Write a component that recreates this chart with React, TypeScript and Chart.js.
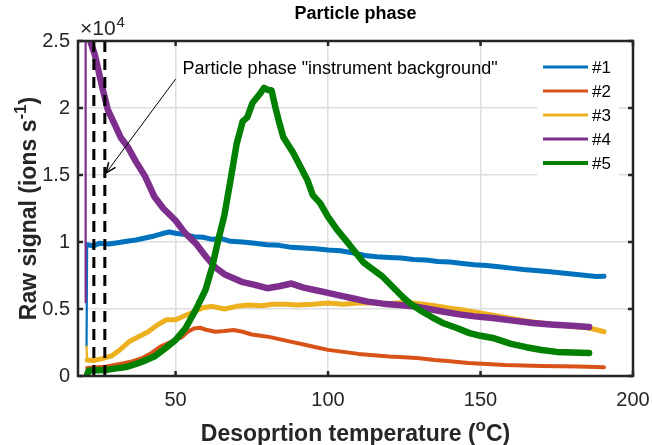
import React, { useEffect, useRef } from "react";
import { Chart, registerables } from "chart.js";

Chart.register(...registerables);

const FONT = '"Liberation Sans", Arial, Helvetica, sans-serif';
const INK = "#262626";

// ---------- data ----------
const seriesLabels = ["#1", "#2", "#3", "#4", "#5"];
const seriesColors = ["#0072BD", "#D95319", "#EDB120", "#7E2F8E", "#008000"];

const temp1 = [20.8, 21, 23, 25, 28, 31, 34, 37, 40, 43, 46, 48, 50, 53, 56, 59, 62, 65, 68, 72, 76, 80, 84, 88, 92, 96, 100, 104, 108, 112, 116, 120, 124, 128, 132, 136, 140, 144, 148, 152, 156, 160, 164, 168, 172, 176, 180, 184, 188, 190.5];
const signal1 = [2200, 9800, 9700, 9900, 9850, 9950, 10050, 10150, 10300, 10450, 10650, 10750, 10650, 10550, 10400, 10350, 10200, 10250, 10050, 10000, 9900, 9800, 9750, 9600, 9550, 9500, 9400, 9350, 9200, 9000, 8900, 8850, 8800, 8700, 8650, 8550, 8500, 8400, 8300, 8250, 8150, 8050, 7950, 7880, 7800, 7700, 7620, 7520, 7420, 7450];

const temp2 = [21, 24, 27, 30, 33, 36, 39, 42, 45, 48, 50, 52, 54, 56, 58, 60, 63, 66, 69, 72, 75, 78, 81, 84, 88, 92, 96, 100, 105, 110, 115, 120, 125, 130, 135, 140, 146, 152, 158, 164, 170, 176, 182, 188, 190.5];
const signal2 = [600, 650, 700, 820, 950, 1100, 1340, 1700, 2200, 2500, 2690, 2900, 3300, 3550, 3600, 3450, 3300, 3350, 3430, 3300, 3100, 3000, 2900, 2750, 2550, 2350, 2150, 1950, 1800, 1650, 1550, 1450, 1400, 1330, 1200, 1100, 970, 900, 820, 780, 750, 720, 700, 670, 660];

const temp3 = [20.8, 21, 23, 26, 29, 32, 35, 38, 41, 44, 47, 50, 53, 56, 59, 62, 66, 70, 74, 78, 82, 86, 90, 95, 100, 105, 110, 115, 120, 125, 130, 135, 140, 145, 150, 155, 160, 165, 170, 175, 180, 185, 188, 190.5];
const signal3 = [2200, 1200, 1150, 1300, 1500, 2000, 2600, 2950, 3300, 3800, 4200, 4200, 4500, 4800, 5100, 5200, 5000, 5200, 5300, 5250, 5350, 5350, 5300, 5350, 5450, 5350, 5450, 5450, 5400, 5500, 5400, 5250, 5050, 4900, 4700, 4500, 4300, 4100, 3950, 3800, 3700, 3600, 3450, 3300];

const temp4 = [20.5, 20.5, 21.5, 22.2, 23.5, 24.5, 26, 27.8, 30, 32, 34.3, 37, 40, 43, 46, 50, 53, 56.6, 60, 63, 66, 69, 72, 76, 80, 84, 88, 92, 96, 100, 104, 108, 113, 118, 123, 128, 133, 138, 143, 148, 154, 160, 167, 173, 180, 185.6];
const signal4 = [5500, 25500, 25500, 24850, 24000, 23000, 21500, 19850, 18800, 17800, 17100, 16000, 14900, 13400, 12500, 11600, 10700, 9900, 8900, 8100, 7600, 7300, 7000, 6800, 6550, 6700, 6900, 6600, 6400, 6200, 6000, 5800, 5550, 5400, 5300, 5200, 5000, 4800, 4600, 4450, 4330, 4150, 3960, 3850, 3750, 3660];

const temp5 = [20.8, 21.5, 24, 27, 30, 33.7, 37, 40, 43, 46.8, 50, 53.3, 56.6, 59.8, 62, 64, 66, 68, 70, 72, 73.5, 75.2, 77.8, 79, 80.4, 81.5, 82.7, 84, 85.3, 88.6, 91, 93.2, 95, 97.4, 100, 103, 107, 111.5, 115, 118, 121, 124.5, 127, 130, 134, 137.6, 142, 146.4, 150, 154, 160, 165, 170, 175, 180, 185.6];
const signal5 = [0, 400, 420, 450, 550, 670, 900, 1150, 1450, 2100, 2690, 3580, 4930, 6420, 8130, 10150, 12000, 14600, 17300, 19000, 19300, 20370, 21100, 21500, 21340, 21300, 20070, 18900, 17840, 16640, 15600, 14630, 13500, 12900, 11870, 10900, 9800, 8500, 7900, 7390, 6700, 5900, 5400, 4930, 4400, 3960, 3600, 3200, 3000, 2840, 2400, 2150, 1940, 1800, 1750, 1720];

const seriesTemps = [temp1, temp2, temp3, temp4, temp5];
const seriesSignals = [signal1, signal2, signal3, signal4, signal5];

const xTicks = [50, 100, 150, 200];
const yTicks = [0, 5000, 10000, 15000, 20000, 25000];
const xMin = 18;
const xMax = 200;
const yMin = 0;
const yMax = 25000;

const backgroundTemps = [23.2, 26.8];
const titleText = "Particle phase";
const annotationText = 'Particle phase "instrument background"';
const annotationAnchor = { x: 52.3, y: 22900 };
const arrowFrom = { x: 50, y: 22160 };
const arrowTo = { x: 27.2, y: 15150 };

// ---------- styles ----------
const lineWidths = [5, 4, 5, 6.5, 6.5];
const legendLineWidths = [3, 3, 3, 3, 4];
const riseWidth = 2.2;

type Part = { t: string; sup?: boolean };

function drawRich(ctx: CanvasRenderingContext2D, parts: Part[], cx: number, baseline: number, size: number, weight: string) {
  const supSize = Math.round(size * 0.72);
  let total = 0;
  const widths = parts.map((p) => {
    ctx.font = `${weight} ${p.sup ? supSize : size}px ${FONT}`;
    const w = ctx.measureText(p.t).width;
    total += w;
    return w;
  });
  let x = cx - total / 2;
  ctx.textAlign = "left";
  ctx.textBaseline = "alphabetic";
  parts.forEach((p, i) => {
    ctx.font = `${weight} ${p.sup ? supSize : size}px ${FONT}`;
    ctx.fillText(p.t, x, p.sup ? baseline - size * 0.42 : baseline);
    x += widths[i];
  });
}

const overlayPlugin = {
  id: "overlay",
  afterDatasetsDraw(chart: any) {
    const { ctx, chartArea: a, scales } = chart;
    const xs = scales.x;
    const ys = scales.y;
    ctx.save();
    ctx.beginPath();
    ctx.rect(a.left, a.top, a.right - a.left, a.bottom - a.top);
    ctx.clip();
    ctx.strokeStyle = "#000";
    ctx.lineWidth = 3;
    ctx.setLineDash([11, 7]);
    for (const t of backgroundTemps) {
      const px = xs.getPixelForValue(t);
      ctx.beginPath();
      ctx.moveTo(px, ys.getPixelForValue(yMin));
      ctx.lineTo(px, ys.getPixelForValue(yMax));
      ctx.stroke();
    }
    ctx.restore();
  },
  afterDraw(chart: any) {
    const { ctx, chartArea: a, scales } = chart;
    const xs = scales.x;
    const ys = scales.y;
    ctx.save();

    // legend (white box, no border)
    const lx = a.right - 96;
    const lw = 82;
    ctx.fillStyle = "#fff";
    ctx.fillRect(lx, a.top + 3, lw, 142);
    chart.data.datasets.forEach((ds: any, i: number) => {
      const cy = a.top + 26 + i * 24;
      ctx.strokeStyle = ds.borderColor;
      ctx.lineWidth = legendLineWidths[i];
      ctx.beginPath();
      ctx.moveTo(lx + 6, cy);
      ctx.lineTo(lx + 51, cy);
      ctx.stroke();
      ctx.fillStyle = "#000";
      ctx.font = `17px ${FONT}`;
      ctx.textAlign = "left";
      ctx.textBaseline = "middle";
      ctx.fillText(ds.label, lx + 55, cy + 1);
    });

    // box + inward ticks
    ctx.strokeStyle = INK;
    ctx.lineWidth = 2.5;
    ctx.strokeRect(a.left, a.top, a.right - a.left, a.bottom - a.top);
    const tl = 5;
    ctx.beginPath();
    for (const v of xTicks) {
      const px = xs.getPixelForValue(v);
      ctx.moveTo(px, a.bottom);
      ctx.lineTo(px, a.bottom - tl);
      ctx.moveTo(px, a.top);
      ctx.lineTo(px, a.top + tl);
    }
    for (const v of yTicks) {
      const py = ys.getPixelForValue(v);
      ctx.moveTo(a.left, py);
      ctx.lineTo(a.left + tl, py);
      ctx.moveTo(a.right, py);
      ctx.lineTo(a.right - tl, py);
    }
    ctx.stroke();

    // exponent
    ctx.fillStyle = INK;
    ctx.textAlign = "left";
    ctx.textBaseline = "alphabetic";
    ctx.font = `21px ${FONT}`;
    ctx.fillText("\u00d710", a.left + 2, a.top - 6);
    const w10 = ctx.measureText("\u00d710").width;
    ctx.font = `15px ${FONT}`;
    ctx.fillText("4", a.left + 2 + w10 + 1, a.top - 14);

    // title
    ctx.fillStyle = "#000";
    ctx.font = `bold 18px ${FONT}`;
    ctx.textAlign = "center";
    ctx.fillText(titleText, (a.left + a.right) / 2, a.top - 22);

    // axis titles
    ctx.fillStyle = INK;
    drawRich(ctx, [{ t: "Desoprtion temperature (" }, { t: "o", sup: true }, { t: "C)" }], (a.left + a.right) / 2, 441, 23, "bold");
    ctx.save();
    ctx.translate(36, (a.top + a.bottom) / 2);
    ctx.rotate(-Math.PI / 2);
    drawRich(ctx, [{ t: "Raw signal (ions s" }, { t: "-1", sup: true }, { t: ")" }], 0, 0, 23, "bold");
    ctx.restore();

    // annotation
    ctx.fillStyle = "#000";
    ctx.font = `18px ${FONT}`;
    ctx.textAlign = "left";
    ctx.textBaseline = "middle";
    ctx.fillText(annotationText, xs.getPixelForValue(annotationAnchor.x), ys.getPixelForValue(annotationAnchor.y));
    const x0 = xs.getPixelForValue(arrowFrom.x);
    const y0 = ys.getPixelForValue(arrowFrom.y);
    const x1 = xs.getPixelForValue(arrowTo.x);
    const y1 = ys.getPixelForValue(arrowTo.y);
    ctx.strokeStyle = "#000";
    ctx.lineWidth = 1;
    ctx.beginPath();
    ctx.moveTo(x0, y0);
    ctx.lineTo(x1, y1);
    ctx.stroke();
    const ang = Math.atan2(y1 - y0, x1 - x0);
    const hl = 11;
    ctx.lineWidth = 1.5;
    ctx.beginPath();
    ctx.moveTo(x1 - hl * Math.cos(ang - 0.4), y1 - hl * Math.sin(ang - 0.4));
    ctx.lineTo(x1, y1);
    ctx.lineTo(x1 - hl * Math.cos(ang + 0.4), y1 - hl * Math.sin(ang + 0.4));
    ctx.stroke();

    ctx.restore();
  },
};

export default function App() {
  const ref = useRef<HTMLCanvasElement | null>(null);
  useEffect(() => {
    if (!ref.current) return;
    const datasets = seriesLabels.map((label, i) => {
      const temps = seriesTemps[i];
      const hasRise = temps.length > 1 && Math.abs(temps[1] - temps[0]) < 0.5;
      return {
        label,
        data: temps.map((x, j) => ({ x, y: seriesSignals[i][j] })),
        borderColor: seriesColors[i],
        backgroundColor: seriesColors[i],
        borderWidth: lineWidths[i],
        pointRadius: 0,
        tension: 0,
        fill: false,
        clip: 0,
        order: seriesLabels.length - i,
        borderJoinStyle: "round" as const,
        borderCapStyle: "round" as const,
        segment: {
          borderWidth: (c: any) => (hasRise && c.p0DataIndex === 0 ? riseWidth : lineWidths[i]),
        },
      };
    });
    const chart = new Chart(ref.current, {
      type: "line",
      data: { datasets },
      options: {
        animation: false,
        responsive: false,
        maintainAspectRatio: false,
        layout: { padding: { top: 41, right: 19, left: 0, bottom: 0 } },
        plugins: { legend: { display: false }, title: { display: false }, tooltip: { enabled: false } },
        scales: {
          x: {
            type: "linear",
            min: xMin,
            max: xMax,
            afterBuildTicks: (s: any) => {
              s.ticks = xTicks.map((v) => ({ value: v }));
            },
            afterFit: (s: any) => {
              s.height = 69;
              s.paddingLeft = 0;
              s.paddingRight = 0;
            },
            grid: { color: "#dedede", lineWidth: 1.5, drawTicks: false },
            border: { display: false },
            ticks: { font: { family: FONT, size: 20 }, color: INK, padding: 12, maxRotation: 0, autoSkip: false },
          },
          y: {
            type: "linear",
            min: yMin,
            max: yMax,
            afterBuildTicks: (s: any) => {
              s.ticks = yTicks.map((v) => ({ value: v }));
            },
            afterFit: (s: any) => {
              s.width = 78;
              s.paddingTop = 0;
              s.paddingBottom = 0;
            },
            grid: { color: "#dedede", lineWidth: 1.5, drawTicks: false },
            border: { display: false },
            ticks: {
              font: { family: FONT, size: 20 },
              color: INK,
              padding: 8,
              autoSkip: false,
              callback: (v: any) => String(Number(v) / 10000),
            },
          },
        },
      },
      plugins: [overlayPlugin],
    });
    return () => chart.destroy();
  }, []);
  return (
    <div style={{ position: "fixed", left: 0, top: 0, width: 652, height: 445, background: "#fff" }}>
      <canvas ref={ref} width={652} height={445} />
    </div>
  );
}
